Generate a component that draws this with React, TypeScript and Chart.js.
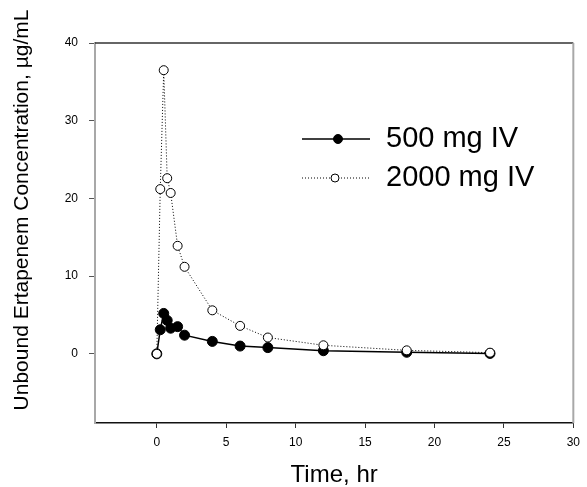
import React, { useEffect, useRef } from "react";
import { Chart, registerables } from "chart.js";

Chart.register(...registerables);

const times = [0, 0.25, 0.5, 0.75, 1, 1.5, 2, 4, 6, 8, 12, 18, 24];
const conc500 = [0, 3.1, 5.2, 4.3, 3.3, 3.5, 2.4, 1.6, 1.0, 0.8, 0.4, 0.2, 0.05];
const conc2000 = [0, 21.2, 36.5, 22.6, 20.7, 13.9, 11.2, 5.6, 3.6, 2.1, 1.1, 0.45, 0.15];
const xTicks = [0, 5, 10, 15, 20, 25, 30];
const yTicks = [0, 10, 20, 30, 40];
const seriesLabels = ["500 mg IV", "2000 mg IV"];
const xTitle = "Time, hr";
const yTitle = "Unbound Ertapenem Concentration, \u00b5g/mL";

const FONT = "'Liberation Sans', Arial, Helvetica, sans-serif";

export default function App() {
  const ref = useRef<HTMLCanvasElement>(null);

  useEffect(() => {
    document.body.style.margin = "0";
    const canvas = ref.current!;

    const decor = {
      id: "decor",
      beforeDatasetsDraw(chart: any) {
        const { ctx, chartArea } = chart;
        const { left, right, top, bottom } = chartArea;
        ctx.save();
        ctx.strokeStyle = "#333";
        ctx.lineWidth = 1.5;
        ctx.beginPath();
        ctx.moveTo(left, top);
        ctx.lineTo(right, top);
        ctx.stroke();
        ctx.strokeStyle = "#a8a8a8";
        ctx.lineWidth = 2;
        ctx.beginPath();
        ctx.moveTo(right, top);
        ctx.lineTo(right, bottom);
        ctx.stroke();
        ctx.restore();
      },
      afterDraw(chart: any) {
        const { ctx, chartArea } = chart;
        ctx.save();
        ctx.fillStyle = "#000";
        ctx.textAlign = "center";
        ctx.textBaseline = "alphabetic";
        ctx.font = `24px ${FONT}`;
        ctx.fillText(xTitle, (chartArea.left + chartArea.right) / 2, 482);
        ctx.font = `21px ${FONT}`;
        ctx.textBaseline = "middle";
        ctx.save();
        ctx.translate(22, 210);
        ctx.rotate(-Math.PI / 2);
        ctx.fillText(yTitle, 0, 0);
        ctx.restore();

        // legend
        const rows = [
          { y: 139, label: seriesLabels[0], fill: "#000", dash: [] as number[], lw: 1.5, r: 4.5, mx: 338 },
          { y: 178, label: seriesLabels[1], fill: "#fff", dash: [1, 2], lw: 1, r: 4, mx: 335 },
        ];
        for (const row of rows) {
          ctx.strokeStyle = "#000";
          ctx.lineWidth = row.lw;
          ctx.setLineDash(row.dash);
          ctx.beginPath();
          ctx.moveTo(302, row.y);
          ctx.lineTo(370, row.y);
          ctx.stroke();
          ctx.setLineDash([]);
          ctx.lineWidth = 1;
          ctx.beginPath();
          ctx.arc(row.mx, row.y, row.r, 0, Math.PI * 2);
          ctx.fillStyle = row.fill;
          ctx.fill();
          ctx.stroke();
          ctx.fillStyle = "#000";
          ctx.font = `29px ${FONT}`;
          ctx.textAlign = "left";
          ctx.textBaseline = "middle";
          ctx.fillText(row.label, 386, row.y);
        }
        ctx.restore();
      },
    };

    const chart = new Chart(canvas, {
      type: "line",
      data: {
        datasets: [
          {
            label: seriesLabels[1],
            data: times.map((t, i) => ({ x: t, y: conc2000[i] })),
            borderColor: "#000",
            borderWidth: 1,
            borderDash: [1, 2],
            pointRadius: 4.5,
            pointBackgroundColor: "#fff",
            pointBorderColor: "#000",
            pointBorderWidth: 1,
            tension: 0,
            order: 0,
          },
          {
            label: seriesLabels[0],
            data: times.map((t, i) => ({ x: t, y: conc500[i] })),
            borderColor: "#000",
            borderWidth: 1.5,
            pointRadius: 5,
            pointBackgroundColor: "#000",
            pointBorderColor: "#000",
            pointBorderWidth: 1,
            tension: 0,
            order: 1,
          },
        ],
      },
      options: {
        responsive: false,
        animation: false,
        layout: { padding: { top: 43, right: 7, left: 0, bottom: 0 } },
        plugins: {
          legend: { display: false },
          tooltip: { enabled: false },
        },
        scales: {
          x: {
            type: "linear",
            min: -4.45,
            max: 30,
            afterBuildTicks: (s: any) => {
              s.ticks = xTicks.map((v) => ({ value: v }));
            },
            afterFit: (s: any) => {
              s.height = 64;
            },
            grid: { drawOnChartArea: false, drawTicks: true, tickLength: 5, color: "#333", tickWidth: 1 },
            border: { color: "#111", width: 1.5 },
            ticks: {
              font: { family: FONT, size: 12 },
              color: "#000",
              padding: 7,
              maxRotation: 0,
              autoSkip: false,
            },
          },
          y: {
            type: "linear",
            min: -8.9,
            max: 40,
            afterBuildTicks: (s: any) => {
              s.ticks = yTicks.map((v) => ({ value: v }));
            },
            afterFit: (s: any) => {
              s.width = 95;
            },
            grid: { drawOnChartArea: false, drawTicks: true, tickLength: 6, color: "#555", tickWidth: 1 },
            border: { color: "#a8a8a8", width: 2 },
            ticks: {
              font: { family: FONT, size: 12 },
              color: "#000",
              padding: 11,
              autoSkip: false,
            },
          },
        },
      },
      plugins: [decor],
    });

    return () => chart.destroy();
  }, []);

  return <canvas ref={ref} width={587} height={487} style={{ display: "block" }} />;
}
